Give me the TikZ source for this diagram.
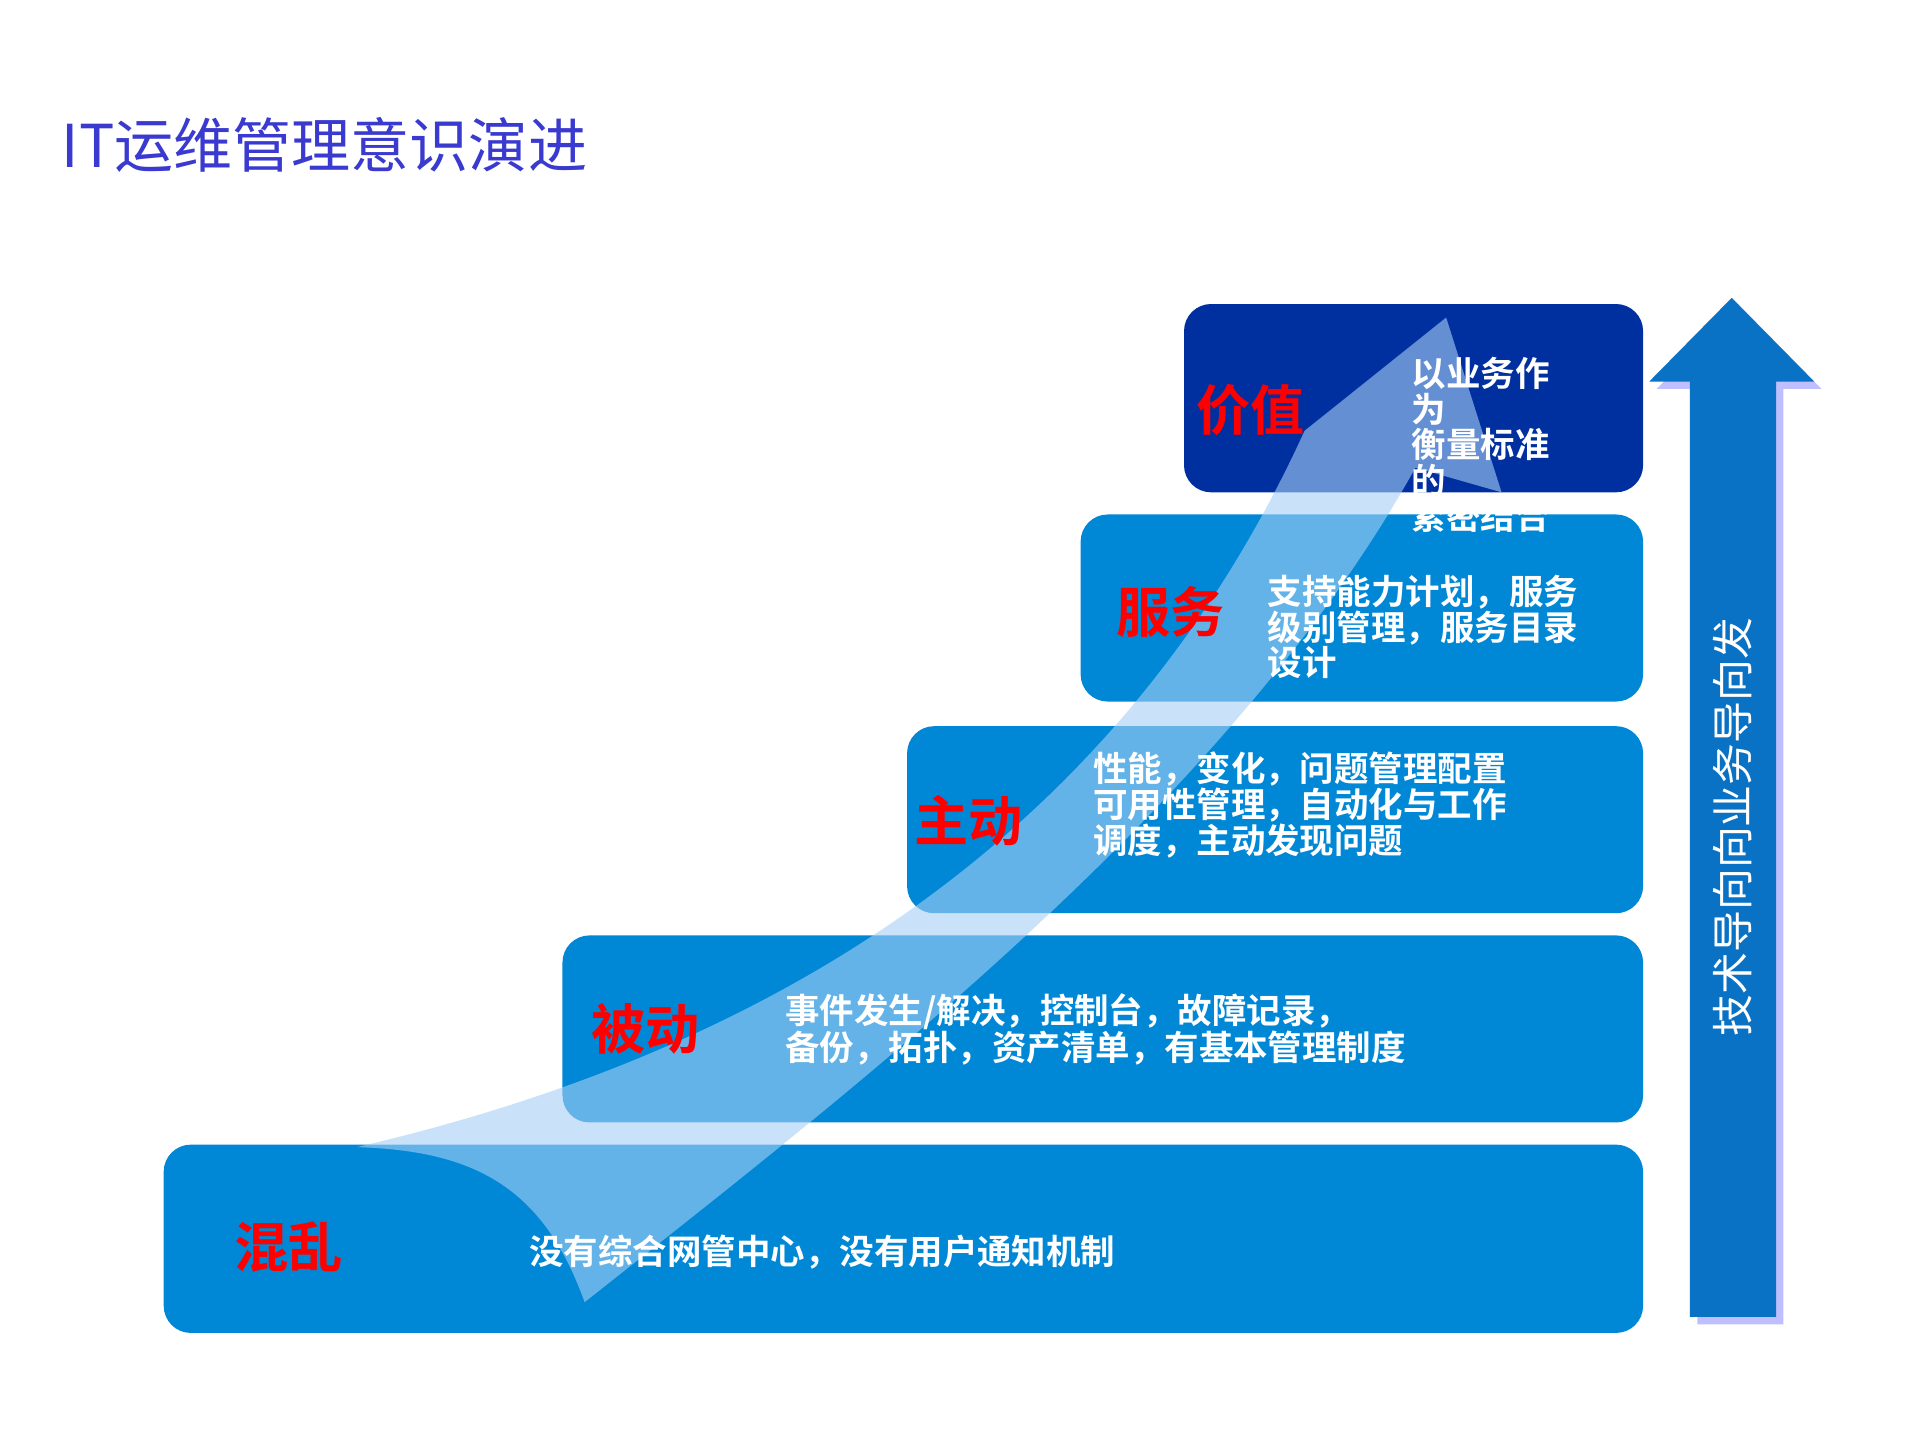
\documentclass[tikz,border=0pt]{standalone}
\usepackage{fontspec}
\setmainfont{Noto Sans CJK SC}
\newfontfamily\cjkb{Noto Sans CJK SC Bold}
\definecolor{boxblue}{HTML}{0088D6}
\definecolor{topblue}{HTML}{0030A0}
\definecolor{arrblue}{HTML}{0A72C4}
\definecolor{titleblue}{HTML}{3A3AD0}
\definecolor{flow}{HTML}{A8D0F5}
\tikzset{
 stepbox/.style={fill=boxblue,rounded corners=22pt},
 lvl/.style={anchor=west,text=red,font=\cjkb\fontsize{44}{48}\selectfont,inner sep=0},
 desc/.style={anchor=north west,text=white,font=\cjkb\fontsize{28}{29}\selectfont,align=left,inner sep=0},
}
\begin{document}
\begin{tikzpicture}[x=1pt,y=-1pt]
\useasboundingbox (0,0) rectangle (1560,1170);
\fill[white] (0,0) rectangle (1560,1170);
\node[anchor=west,text=titleblue,font=\fontsize{48}{52}\selectfont,inner sep=0] (title) at (50,118) {IT运维管理意识演进};
% boxes
\fill[stepbox] (133,930) rectangle (1335,1083);
\fill[stepbox] (457,760) rectangle (1335,912);
\fill[stepbox] (737,590) rectangle (1335,742);
\fill[stepbox] (878,418) rectangle (1335,570);
\fill[stepbox,fill=topblue] (962,247) rectangle (1335,400);
% flow arrow
\fill[flow,opacity=0.6] (290,932) .. controls (600,860) and (900,700) .. (1060,350)
 -- (1175,258) -- (1220,400) -- (1150,380)
 .. controls (1000,650) and (700,880) .. (475,1058)
 .. controls (440,960) and (380,935) .. (290,932) -- cycle;
% right arrow shadow and arrow
\fill[blue!25] (1379,316) -- (1346,316) -- (1413,248) -- (1480,316) -- (1449,316) -- (1449,1076) -- (1379,1076) -- cycle;
\fill[arrblue] (1373,310) -- (1340,310) -- (1407,242) -- (1474,310) -- (1443,310) -- (1443,1070) -- (1373,1070) -- cycle;
\node[rotate=90,text=white,font=\fontsize{34}{36}\selectfont,inner sep=0] (va) at (1408,672) {技术导向向业务导向发};
% labels
\node[lvl] (l5) at (972,333) {价值};
\node[lvl] (l4) at (907,497) {服务};
\node[lvl] (l3) at (743,667) {主动};
\node[lvl] (l2) at (480,836) {被动};
\node[lvl] (l1) at (190,1013) {混乱};
\node[desc] (d5) at (1147,290) {以业务作\\为\\衡量标准\\的\\紧密结合};
\node[desc] (d4) at (1030,467) {支持能力计划，服务\\级别管理，服务目录\\设计};
\node[desc] (d3) at (888,611) {性能，变化，问题管理配置\\可用性管理，自动化与工作\\调度，主动发现问题};
\node[desc] (d2) at (638,807) {事件发生/解决，控制台，故障记录，\\备份，拓扑，资产清单，有基本管理制度};
\node[desc] (d1) at (430,1003) {没有综合网管中心，没有用户通知机制};
\end{tikzpicture}
\end{document}
